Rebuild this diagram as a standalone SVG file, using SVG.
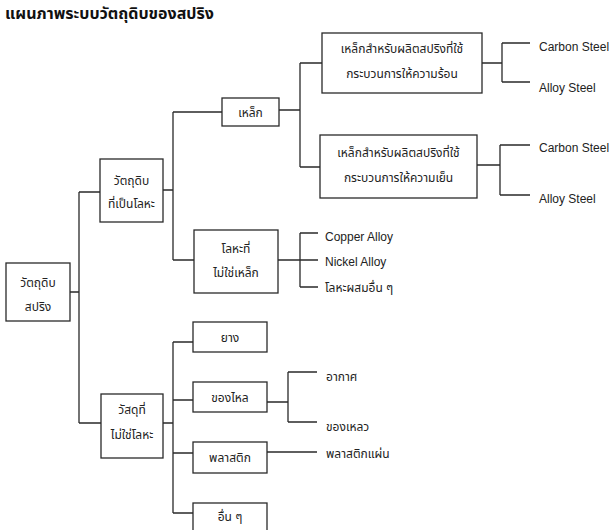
<svg xmlns="http://www.w3.org/2000/svg" width="609" height="530" viewBox="0 0 609 530">
<style>
.bg{fill:#fff}
.box{fill:#fff;stroke:#2a2a2a;stroke-width:1.3}
.ln{fill:none;stroke:#2a2a2a;stroke-width:1.3}
text{font-family:"Liberation Sans","Noto Sans Thai","Loma","Garuda",sans-serif;font-size:12px;fill:#222}
.c{text-anchor:middle}
.title{font-size:16px;font-weight:bold;fill:#111}
.en{font-size:12px}
</style>
<rect class="bg" x="0" y="0" width="609" height="530"/>
<text class="title" x="5" y="19">แผนภาพระบบวัตถุดิบของสปริง</text>
<g id="connectors">
<path class="ln" d="M70,292H79M79,192V423M79,192H100M79,423H101"/>
<path class="ln" d="M163,190H173M173,112V260M173,112H222M173,260H194"/>
<path class="ln" d="M279,110H300M300,63V167M300,63H322M300,167H320"/>
<path class="ln" d="M482,63H502M502,43V82M502,43H530M502,82H530"/>
<path class="ln" d="M477,165H500M500,145V195M500,145H530M500,195H530"/>
<path class="ln" d="M278,260H300M300,233V287M300,233H318M300,260H318M300,287H318"/>
<path class="ln" d="M163,423H173M173,342V513M173,342H193M173,400H193M173,453H193M173,513H193"/>
<path class="ln" d="M267,402H288M288,372V422M288,372H317M288,422H317"/>
<path class="ln" d="M267,452H317"/>
</g>
<g id="root"><rect class="box" x="6" y="263" width="64" height="58"/><text class="c" x="38" y="287">วัตถุดิบ</text><text class="c" x="38" y="311">สปริง</text></g>
<g id="metal"><rect class="box" x="100" y="159" width="63" height="63"/><text class="c" x="131.5" y="185">วัตถุดิบ</text><text class="c" x="131.5" y="208">ที่เป็นโลหะ</text></g>
<g id="steel"><rect class="box" x="222" y="98" width="57" height="28"/><text class="c" x="250.5" y="117">เหล็ก</text></g>
<g id="steel-hot"><rect class="box" x="322" y="33" width="160" height="60"/><text class="c" x="402" y="53">เหล็กสำหรับผลิตสปริงที่ใช้</text><text class="c" x="402" y="78">กระบวนการให้ความร้อน</text></g>
<g id="steel-cold"><rect class="box" x="320" y="135" width="157" height="63"/><text class="c" x="398.5" y="157">เหล็กสำหรับผลิตสปริงที่ใช้</text><text class="c" x="398.5" y="182">กระบวนการให้ความเย็น</text></g>
<g id="carbon1"><text class="en" x="539" y="51">Carbon Steel</text></g>
<g id="alloy1"><text class="en" x="539" y="92">Alloy Steel</text></g>
<g id="carbon2"><text class="en" x="539" y="152">Carbon Steel</text></g>
<g id="alloy2"><text class="en" x="539" y="203">Alloy Steel</text></g>
<g id="nonferrous"><rect class="box" x="194" y="230" width="84" height="63"/><text class="c" x="236" y="253">โลหะที่</text><text class="c" x="236" y="277">ไม่ใช่เหล็ก</text></g>
<g id="copper"><text class="en" x="325" y="241">Copper Alloy</text></g>
<g id="nickel"><text class="en" x="325" y="266">Nickel Alloy</text></g>
<g id="othermetal"><text x="325" y="292">โลหะผสมอื่น ๆ</text></g>
<g id="nonmetal"><rect class="box" x="101" y="394" width="62" height="64"/><text class="c" x="132" y="414">วัสดุที่</text><text class="c" x="132" y="439">ไม่ใช่โลหะ</text></g>
<g id="rubber"><rect class="box" x="193" y="322" width="74" height="30"/><text class="c" x="230" y="342">ยาง</text></g>
<g id="fluid"><rect class="box" x="193" y="382" width="74" height="30"/><text class="c" x="230" y="402">ของไหล</text></g>
<g id="air"><text x="326" y="381">อากาศ</text></g>
<g id="liquid"><text x="326" y="431">ของเหลว</text></g>
<g id="plastic"><rect class="box" x="193" y="442" width="74" height="31"/><text class="c" x="230" y="462">พลาสติก</text></g>
<g id="plastic-sheet"><text x="326" y="458">พลาสติกแผ่น</text></g>
<g id="others"><rect class="box" x="193" y="503" width="74" height="40"/><text class="c" x="230" y="521">อื่น ๆ</text></g>
</svg>
